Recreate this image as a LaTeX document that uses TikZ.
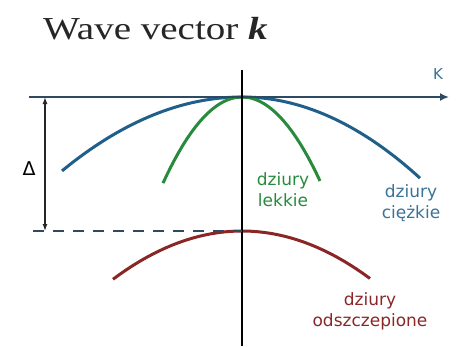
\documentclass[tikz,border=0pt]{standalone}
\usepackage{fontspec}
\setmainfont{Liberation Serif}
\newfontfamily\lblfont{DejaVu Sans}
\usetikzlibrary{arrows.meta}
\definecolor{hhblue}{HTML}{1F5F8A}
\definecolor{lhgreen}{HTML}{278A3C}
\definecolor{sored}{HTML}{8B2626}
\definecolor{axslate}{HTML}{2E4A62}
\definecolor{txtblue}{HTML}{3A7299}
\tikzset{
  curve/.style={line width=3pt},
  lbl/.style={font=\lblfont\fontsize{17}{21}\selectfont, align=center, inner sep=0pt},
}
\begin{document}
\begin{tikzpicture}[x=1pt,y=-1pt]
\useasboundingbox (0,0) rectangle (462,346);
% title
\node[anchor=base west, inner sep=0pt, font=\fontsize{32}{36}\selectfont, text=black!85] (title) at (43,39) {\scalebox{1.22}[1]{Wave vector \textbf{\textit{k}}}};
% curves
\draw[curve, hhblue] plot[domain=-1.80:0, samples=40] ({242+100*\x},{97+22.8*\x*\x});
\draw[curve, hhblue] plot[domain=0:1.78, samples=40] ({242+100*\x},{97+25.6*\x*\x});
\draw[curve, lhgreen] plot[domain=-0.79:0.78, samples=40] ({242+100*\x},{97+138*\x*\x});
\draw[curve, sored] plot[domain=-1.29:1.28, samples=40] ({242+100*\x},{231+29*\x*\x});
% axes
\coordinate (hl) at (29,97);
\coordinate (hr) at (449,97);
\coordinate (vt) at (242,70);
\coordinate (vb) at (242,346);
\draw[axslate, line width=1.8pt, -{Latex[length=9pt,width=8pt]}] (hl) -- (hr);
\draw[black, line width=1.5pt] (vt) -- (vb);
\node[font=\lblfont\fontsize{15}{15}\selectfont, text=txtblue, inner sep=0pt] (klbl) at (438,74) {K};
% dashed level
\coordinate (dl) at (33,231);
\coordinate (dr) at (242,231);
\draw[axslate, line width=1.5pt, dash pattern=on 11pt off 9pt] (dl) -- (dr);
% delta
\coordinate (da) at (45,97);
\coordinate (db) at (45,231);
\draw[black!85, line width=1.3pt, {Latex[length=7pt,width=5pt]}-{Latex[length=7pt,width=5pt]}] (da) -- (db);
\node[font=\lblfont\fontsize{19}{19}\selectfont, inner sep=0pt] (delta) at (29,169) {Δ};
% labels
\node[lbl, text=lhgreen] (lh) at (283,190) {dziury\\lekkie};
\node[lbl, text=txtblue] (hh) at (411,203) {dziury\\ciężkie};
\node[lbl, text=sored] (so) at (370,311) {dziury\\odszczepione};
\end{tikzpicture}
\end{document}
